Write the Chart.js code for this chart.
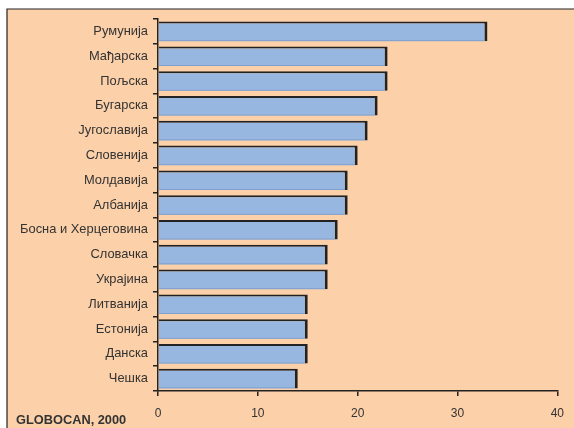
<!DOCTYPE html>
<html>
<head>
<meta charset="utf-8">
<script src="https://cdn.jsdelivr.net/npm/chart.js@4/dist/chart.umd.min.js"></script>
<style>
  html, body { margin: 0; padding: 0; background: #ffffff; }
  #wrap { position: relative; width: 574px; height: 428px; }
</style>
</head>
<body>
<div id="wrap"><canvas id="c" width="574" height="428"></canvas></div>
<script>
// Countries and their rates
const countries = [
  'Румунија', 'Мађарска', 'Пољска', 'Бугарска', 'Југославија',
  'Словенија', 'Молдавија', 'Албанија', 'Босна и Херцеговина', 'Словачка',
  'Украјина', 'Литванија', 'Естонија', 'Данска', 'Чешка'
];
const rates = [33, 23, 23, 22, 21, 20, 19, 19, 18, 17, 17, 15, 15, 15, 14];
const xTicks = [0, 10, 20, 30, 40];
const sourceNote = 'GLOBOCAN, 2000';

const PEACH = '#FCD0A8';
const BAR = '#98B7E0';
const DARK = '#222222';
const TEXT = '#333333';
const FONT = 'Liberation Sans, Arial, sans-serif';

// Frame: white margin with a peach panel outlined on top and left
const framePlugin = {
  id: 'frame',
  beforeDraw(chart) {
    const ctx = chart.ctx;
    ctx.save();
    ctx.fillStyle = '#ffffff';
    ctx.fillRect(0, 0, chart.width, chart.height);
    ctx.fillStyle = PEACH;
    ctx.fillRect(7, 9, chart.width - 7, chart.height - 9);
    ctx.strokeStyle = DARK;
    ctx.lineWidth = 1.2;
    ctx.beginPath();
    ctx.moveTo(7, chart.height);
    ctx.lineTo(7, 9);
    ctx.lineTo(chart.width, 9);
    ctx.stroke();
    ctx.restore();
  },
  afterDatasetsDraw(chart) {
    // faint lower edge on each bar
    const ctx = chart.ctx;
    const meta = chart.getDatasetMeta(0);
    ctx.save();
    ctx.strokeStyle = '#7E9ED0';
    ctx.lineWidth = 1;
    meta.data.forEach(el => {
      const p = el.getProps(['x', 'y', 'base', 'height'], true);
      const yb = p.y + p.height / 2 - 0.5;
      ctx.beginPath();
      ctx.moveTo(p.base, yb);
      ctx.lineTo(p.x - 3, yb);
      ctx.stroke();
    });
    ctx.restore();
  },
  afterDraw(chart) {
    const ctx = chart.ctx;
    ctx.save();
    ctx.fillStyle = TEXT;
    ctx.font = 'bold 12.8px ' + FONT;
    ctx.textBaseline = 'alphabetic';
    ctx.fillText(sourceNote, 16, 424);
    ctx.restore();
  }
};

new Chart(document.getElementById('c'), {
  type: 'bar',
  data: {
    labels: countries,
    datasets: [{
      data: rates,
      backgroundColor: BAR,
      borderColor: DARK,
      borderWidth: { top: 2, right: 3, bottom: 0, left: 0 },
      borderSkipped: false,
      barPercentage: 0.79,
      categoryPercentage: 1.0
    }]
  },
  options: {
    indexAxis: 'y',
    responsive: false,
    animation: false,
    events: [],
    layout: { padding: { left: 0, top: 19, right: 16, bottom: 0 } },
    plugins: { legend: { display: false }, tooltip: { enabled: false } },
    scales: {
      x: {
        min: 0, max: 40,
        afterBuildTicks(s) { s.ticks = xTicks.map(v => ({ value: v })); },
        afterFit(s) { s.height = 37; },
        ticks: { color: TEXT, font: { family: FONT, size: 12 }, padding: 10 },
        grid: { drawOnChartArea: false, tickLength: 5, color: DARK, lineWidth: 1.5 },
        border: { color: DARK, width: 1.5 }
      },
      y: {
        afterFit(s) { s.width = 158; },
        ticks: { color: TEXT, font: { family: FONT, size: 12.9 }, padding: 5, autoSkip: false },
        grid: { drawOnChartArea: false, tickLength: 5, color: DARK, lineWidth: 1.5, offset: true },
        border: { color: DARK, width: 1.5 }
      }
    }
  },
  plugins: [framePlugin]
});
</script>
</body>
</html>
